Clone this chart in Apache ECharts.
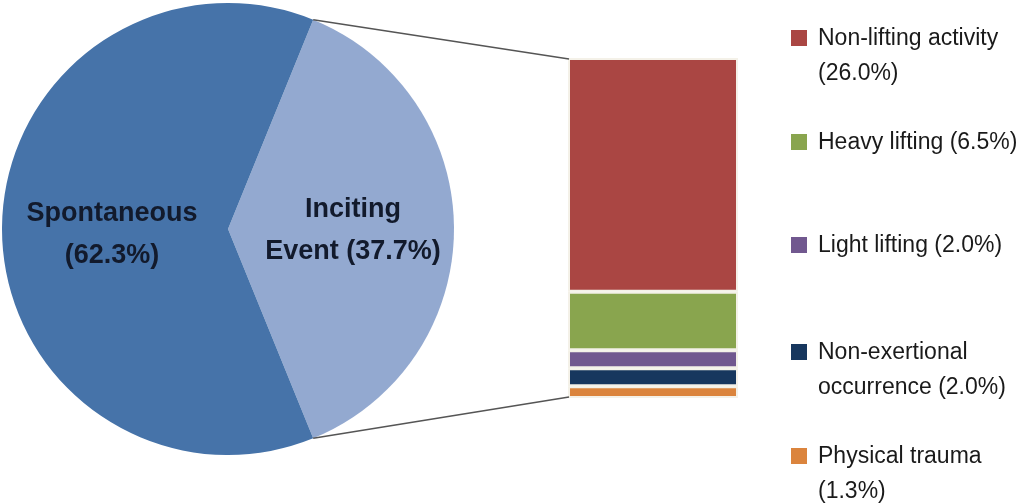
<!DOCTYPE html>
<html>
<head>
<meta charset="utf-8">
<script src="https://cdn.jsdelivr.net/npm/echarts@6/dist/echarts.min.js"></script>
<style>
  html, body { margin: 0; padding: 0; background: #fff; }
  #main { width: 1024px; height: 504px; }
</style>
</head>
<body>
<div id="main"></div>
<script>
  // pie: cause of onset
  const pieNames = ['Inciting Event', 'Spontaneous'];
  const pieValues = [37.7, 62.3];
  const pieLabels = ['Inciting\nEvent (37.7%)', 'Spontaneous\n(62.3%)'];
  const pieColors = ['#93a9d0', '#4673a9'];

  // breakdown of the inciting event, top to bottom
  const barNames = ['Non-lifting activity', 'Heavy lifting', 'Light lifting', 'Non-exertional occurrence', 'Physical trauma'];
  const barValues = [26.0, 6.5, 2.0, 2.0, 1.3];
  const barLabels = ['Non-lifting activity\n(26.0%)', 'Heavy lifting (6.5%)', 'Light lifting (2.0%)', 'Non-exertional\noccurrence (2.0%)', 'Physical trauma\n(1.3%)'];
  const barColors = ['#aa4643', '#89a54e', '#71588f', '#17375e', '#db843d'];

  const font = '"Liberation Sans", Arial, sans-serif';
  const cx = 228, cy = 229, r = 226;
  // 1px larger all round, the white segment border eats it back
  const bar = { left: 568, top: 58, width: 170, height: 340 };
  const legendTops = [38, 142, 245, 352, 456]; // centre of the first text line

  const myChart = echarts.init(document.getElementById('main'));

  // the inciting slice is centred on 3 o'clock
  const half = pieValues[0] / (pieValues[0] + pieValues[1]) * 180;
  const total = barValues.reduce((a, b) => a + b, 0);

  // connector lines from the pie edge to the bar corners
  const rad = half * Math.PI / 180;
  const edgeX = cx + r * Math.cos(rad);
  const connectors = [
    [edgeX, cy - r * Math.sin(rad), bar.left + 1, bar.top + 1],
    [edgeX, cy + r * Math.sin(rad), bar.left + 1, bar.top + bar.height - 1]
  ].map(p => ({
    type: 'line',
    shape: { x1: p[0], y1: p[1], x2: p[2], y2: p[3] },
    style: { stroke: '#555', lineWidth: 1.5 },
    z: 10
  }));

  // legend, drawn by hand so the icon sits on the first line
  const legendItems = [];
  barLabels.forEach((txt, i) => {
    legendItems.push({
      type: 'rect',
      shape: { x: 791, y: legendTops[i] - 8, width: 16, height: 16 },
      style: { fill: barColors[i] }
    });
    legendItems.push({
      type: 'text',
      x: 818,
      y: legendTops[i] - 17,
      style: {
        text: txt,
        font: '23px ' + font,
        lineHeight: 35,
        fill: '#1a1a1a',
        verticalAlign: 'top'
      }
    });
  });

  const barSeries = barNames.map((name, i) => ({
    name: name,
    type: 'bar',
    stack: 'inciting',
    barWidth: '100%',
    data: [barValues[i]],
    itemStyle: { color: barColors[i], borderColor: '#f4f1e8', borderWidth: 2 },
    silent: true
  })).reverse(); // first series sits at the bottom of the stack

  let option = {
    backgroundColor: '#fff',
    animation: false,
    grid: bar,
    xAxis: { type: 'category', data: ['Inciting Event'], show: false },
    yAxis: { type: 'value', min: 0, max: total, show: false },
    series: [
      {
        type: 'pie',
        center: [cx, cy],
        radius: r,
        startAngle: half,
        clockwise: true,
        silent: true,
        data: pieNames.map((n, i) => ({
          name: n,
          value: pieValues[i],
          itemStyle: { color: pieColors[i] }
        })),
        label: {
          show: true,
          position: 'inside',
          formatter: p => pieLabels[p.dataIndex],
          fontFamily: font,
          fontSize: 27,
          fontWeight: 'bold',
          lineHeight: 42,
          color: '#121a2c'
        },
        labelLine: { show: false },
        labelLayout: p => (p.dataIndex === 0 ? { dx: 9, dy: 2 } : { dy: 6 })
      }
    ].concat(barSeries),
    graphic: connectors.concat(legendItems)
  };

  myChart.setOption(option);
</script>
</body>
</html>
